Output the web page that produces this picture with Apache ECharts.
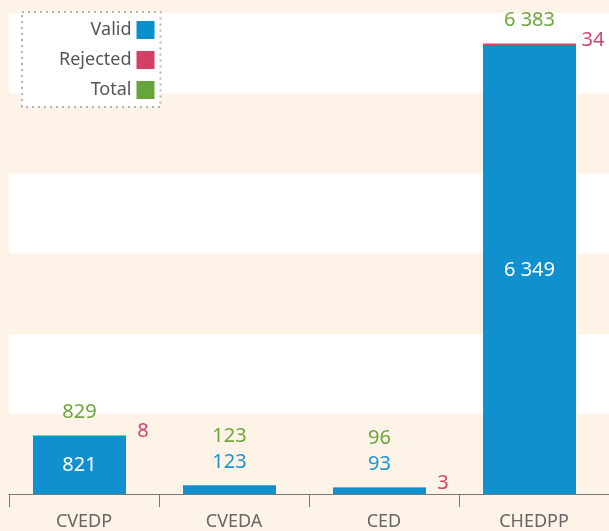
<!DOCTYPE html>
<html>
<head>
<meta charset="utf-8">
<script src="https://cdn.jsdelivr.net/npm/echarts@6/dist/echarts.min.js"></script>
<style>
html,body{margin:0;padding:0;background:#fdf3e7;}
#chart{width:609px;height:531px;}
</style>
</head>
<body>
<div id="chart"></div>
<script>
var categories = ['CVEDP', 'CVEDA', 'CED', 'CHEDPP'];
var validValues = [821, 123, 93, 6349];
var rejectedValues = [8, 0, 3, 34];
var totalValues = [829, 123, 96, 6383];
var yMax = 6816;
var yInterval = 1136;

var BLUE = '#1190d0', RED = '#d4426a', GREEN = '#6aa73c';
var FONT = 'Noto Sans';
function fmt(v) { return String(v).replace(/\B(?=(\d{3})+(?!\d))/g, ' '); }
function isSmall(v) { return v < 500; }

var chart = echarts.init(document.getElementById('chart'), null, {renderer: 'canvas'});
var option = {
  backgroundColor: '#fdf3e7',
  animation: false,
  textStyle: {fontFamily: FONT},
  grid: {left: 9, right: 0, top: 13, bottom: 36},
  legend: {
    orient: 'vertical', align: 'right', left: 22, top: 12,
    padding: [9, 6, 8, 37], itemGap: 12, itemWidth: 18, itemHeight: 18,
    backgroundColor: '#ffffff', borderColor: '#b4b4b4', borderWidth: 2, borderType: [2, 4],
    textStyle: {fontSize: 18, color: '#555', fontFamily: FONT},
    selectedMode: false,
    data: [
      {name: 'Valid', icon: 'rect', itemStyle: {color: '#0a90cb'}},
      {name: 'Rejected', icon: 'rect', itemStyle: {color: '#d24066'}},
      {name: 'Total', icon: 'rect', itemStyle: {color: '#67a53a'}}
    ]
  },
  xAxis: {
    type: 'category', data: categories,
    axisLine: {lineStyle: {color: '#777', width: 1}},
    axisTick: {show: true, length: 13, lineStyle: {color: '#777'}},
    axisLabel: {fontSize: 18, color: '#666', margin: 19, fontFamily: FONT}
  },
  yAxis: {
    type: 'value', min: 0, max: yMax, interval: yInterval,
    axisLabel: {show: false}, axisLine: {show: false}, axisTick: {show: false},
    splitLine: {show: false},
    splitArea: {show: true, areaStyle: {color: ['#fdf3e7', '#ffffff']}}
  },
  series: [
    {
      name: 'Valid', type: 'bar', stack: 'a', barWidth: 93, barGap: '-100%',
      itemStyle: {color: BLUE},
      data: validValues.map(function (v) {
        var small = isSmall(v);
        return {
          value: v,
          label: {
            show: true, position: small ? 'top' : 'inside', distance: 13,
            color: small ? '#1a93d3' : '#ffffff', fontSize: 20, fontFamily: FONT,
            formatter: function (p) { return fmt(p.value); }
          }
        };
      })
    },
    {
      name: 'Rejected', type: 'bar', stack: 'a', barWidth: 93, barGap: '-100%',
      itemStyle: {color: RED},
      data: rejectedValues.map(function (v) {
        return {
          value: v,
          label: {
            show: v > 0, position: 'right', distance: 17, align: 'center', offset: [0, -4],
            color: '#d6416a', fontSize: 20, fontFamily: FONT,
            formatter: function (p) { return fmt(p.value); }
          }
        };
      })
    },
    {
      name: 'Total', type: 'bar', barWidth: 93, barGap: '-100%', z: 1,
      itemStyle: {color: 'rgba(0,0,0,0)'},
      data: totalValues.map(function (v, i) {
        return {
          value: v,
          label: {
            show: true, position: 'top', distance: isSmall(validValues[i]) ? 39 : 13,
            color: GREEN, fontSize: 20, fontFamily: FONT,
            formatter: function (p) { return fmt(p.value); }
          }
        };
      })
    },
    {
      name: 'offset', type: 'bar', barWidth: 102, barGap: '-100%', silent: true,
      data: []
    }
  ]
};
chart.setOption(option);
</script>
</body>
</html>
